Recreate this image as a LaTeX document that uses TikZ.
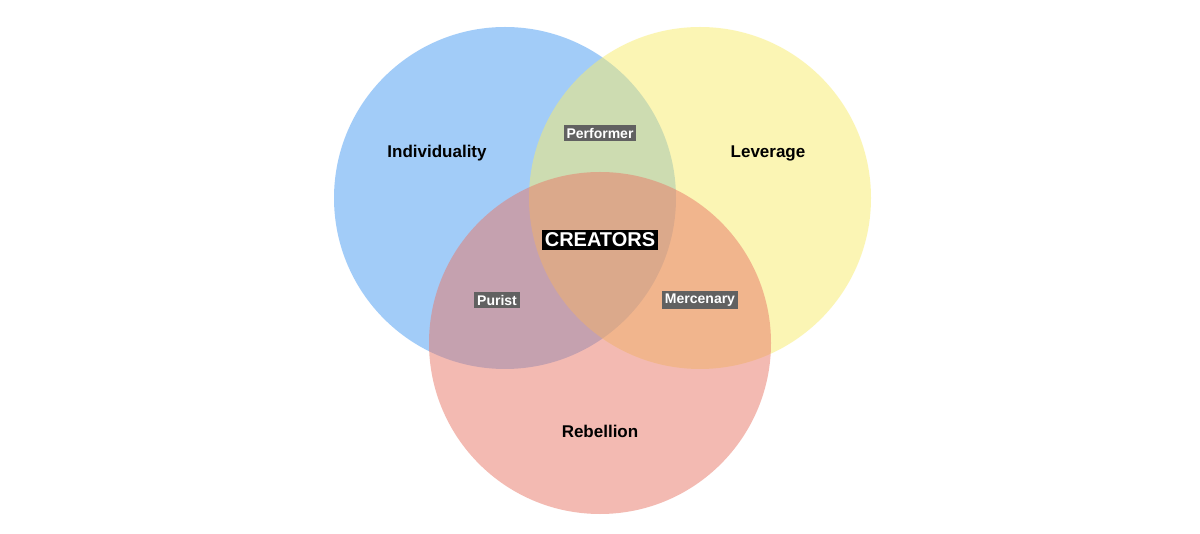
\documentclass[tikz,border=0pt]{standalone}
\usepackage{fontspec}
\setmainfont{Liberation Sans}
\begin{document}
\begin{tikzpicture}[x=1pt,y=-1pt,
  circ/.style={fill opacity=0.5,draw=none},
  big/.style={font=\fontsize{17}{20}\selectfont\bfseries},
  tag/.style={fill=black!62,text=white,font=\fontsize{14}{16}\selectfont\bfseries,inner sep=3pt},
  main/.style={fill=black,text=white,font=\fontsize{20}{23}\selectfont\bfseries,inner sep=3pt}]
\definecolor{cb}{RGB}{71,155,243}
\definecolor{cy}{RGB}{249,237,107}
\definecolor{cr}{RGB}{233,119,103}
\useasboundingbox (0,0) rectangle (1200,534);
\fill[white] (0,0) rectangle (1200,534);
\fill[cb,circ] (505,198) circle (171);
\fill[cy,circ] (700,198) circle (171);
\fill[cr,circ] (600,343) circle (171);
\node[big] (ind) at (437,153) {Individuality};
\node[big] (lev) at (768,153) {Leverage};
\node[big] (reb) at (600,431) {Rebellion};
\node[tag] (perf) at (600,133) {Performer};
\node[tag] (pur) at (497,300) {Purist};
\node[tag] (merc) at (700,300) {Mercenary};
\node[main] (cr) at (600,240) {CREATORS};
\end{tikzpicture}
\end{document}
